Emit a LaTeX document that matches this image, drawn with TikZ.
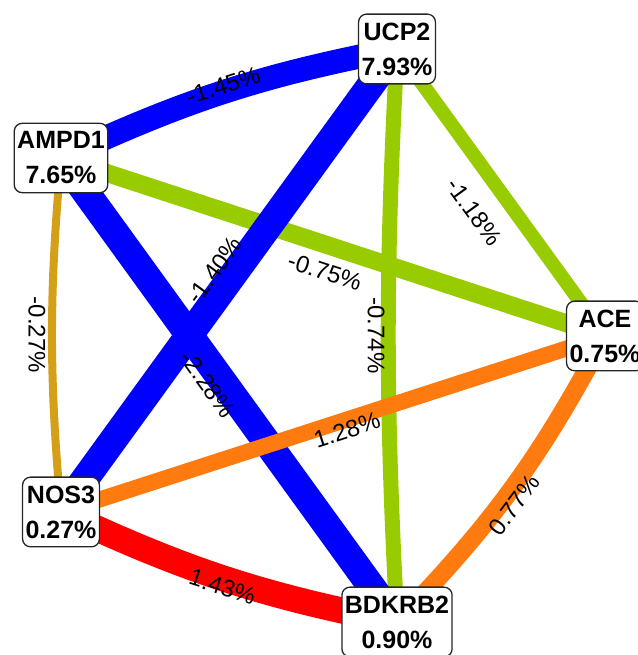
\documentclass[tikz,border=0pt]{standalone}
\usepackage{fontspec}
\setmainfont{Liberation Sans}
\usepackage{xcolor}
\definecolor{eblue}{HTML}{0000FF}
\definecolor{egreen}{HTML}{99CC00}
\definecolor{eorange}{HTML}{FF7A0F}
\definecolor{ered}{HTML}{FF0000}
\definecolor{egold}{HTML}{D4A017}
\usepackage{tikz}
\usetikzlibrary{backgrounds}
\tikzset{
  gene/.style={draw=black!85,line width=1.3pt,rounded corners=8pt,fill=white,align=center,
    inner xsep=3pt,inner ysep=8.5pt,font=\fontsize{25}{35}\selectfont\bfseries},
  elab/.style={sloped,text=black,inner sep=0pt,font=\fontsize{24}{28}\selectfont},
  link/.style={line cap=butt},
}

\begin{document}
\begin{tikzpicture}[x=1pt,y=1pt]
\useasboundingbox (0,0) rectangle (637,655);
\node[gene] (ucp2) at (397,606) {UCP2\\7.93\%};
\node[gene] (ace) at (605,319) {ACE\\0.75\%};
\node[gene] (bdkrb2) at (397,33) {BDKRB2\\0.90\%};
\node[gene] (nos3) at (61,143) {NOS3\\0.27\%};
\node[gene] (ampd1) at (61,497) {AMPD1\\7.65\%};
\begin{scope}[on background layer]
% negative links
\draw[link,egold,line width=8pt] (ampd1.center) to[bend right=5] node[elab,pos=0.5,yshift=-15pt] {-0.27\%} (nos3.center);
\draw[link,egreen,line width=14pt] (ucp2.center) -- node[elab,pos=0.5,yshift=-33pt] {-1.18\%} (ace.center);
\draw[link,egreen,line width=18pt] (ampd1.center) -- node[elab,pos=0.5,yshift=-26pt] {-0.75\%} (ace.center);
\draw[link,egreen,line width=15pt] (ucp2.center) to[bend right=3] node[elab,pos=0.5,yshift=-12pt] {-0.74\%} (bdkrb2.center);
\draw[link,eblue,line width=24pt] (ucp2.center) to[bend right=7] node[elab,pos=0.5,yshift=6pt] {-1.45\%} (ampd1.center);
\draw[link,eblue,line width=28pt] (ucp2.center) -- node[elab,pos=0.5,yshift=18pt] {-1.40\%} (nos3.center);
\draw[link,eblue,line width=28pt] (ampd1.center) -- node[elab,pos=0.47,yshift=-14pt] {-2.28\%} (bdkrb2.center);
% positive links
\draw[link,eorange,line width=16pt] (nos3.center) -- node[elab,pos=0.52,yshift=-10pt] {1.28\%} (ace.center);
\draw[link,eorange,line width=18pt] (bdkrb2.center) to[bend right=8] node[elab,pos=0.46,yshift=-12pt] {0.77\%} (ace.center);
\draw[link,ered,line width=26pt] (nos3.center) to[bend right=7] node[elab,pos=0.5,yshift=-8pt] {1.43\%} (bdkrb2.center);
\end{scope}
\end{tikzpicture}
\end{document}
